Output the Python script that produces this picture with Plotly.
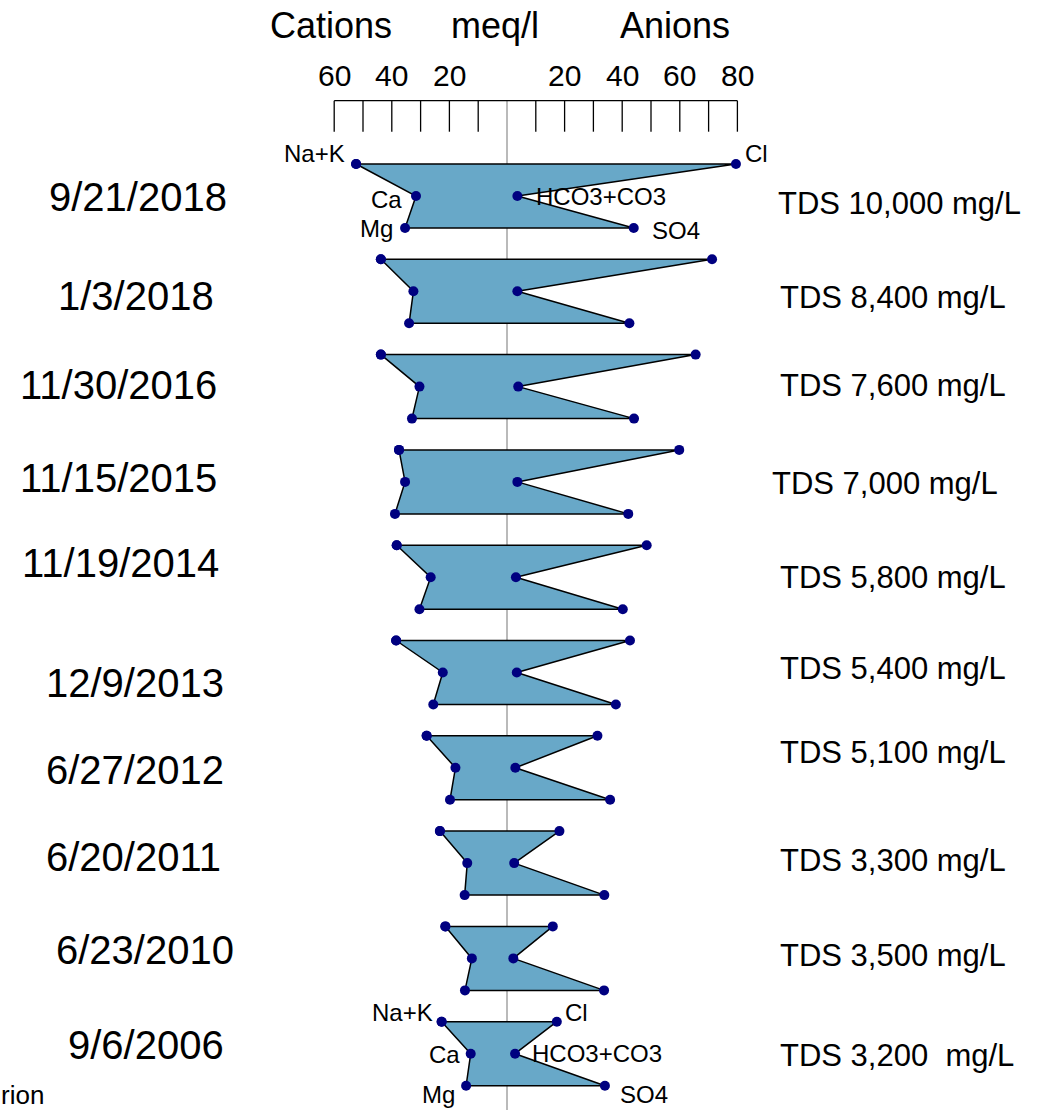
import plotly.graph_objects as go

# Sampling dates (newest first) and total dissolved solids labels
dates = ["9/21/2018", "1/3/2018", "11/30/2016", "11/15/2015", "11/19/2014",
         "12/9/2013", "6/27/2012", "6/20/2011", "6/23/2010", "9/6/2006"]
tds_labels = ["TDS 10,000 mg/L", "TDS 8,400 mg/L", "TDS 7,600 mg/L", "TDS 7,000 mg/L",
              "TDS 5,800 mg/L", "TDS 5,400 mg/L", "TDS 5,100 mg/L", "TDS 3,300 mg/L",
              "TDS 3,500 mg/L", "TDS 3,200  mg/L"]

# Major ions, meq/l
na_k = [52.4, 43.8, 43.8, 37.5, 38.3, 38.5, 27.9, 23.3, 21.4, 22.7]
ca = [31.6, 32.5, 30.4, 35.4, 26.5, 22.3, 17.9, 13.8, 12.2, 12.6]
mg = [35.4, 34.0, 33.0, 38.9, 30.4, 25.6, 19.8, 14.7, 14.6, 14.2]
cl = [79.5, 71.2, 65.5, 59.8, 48.5, 42.7, 31.4, 18.2, 15.9, 17.3]
hco3_co3 = [3.6, 3.6, 3.9, 3.6, 3.1, 3.4, 2.9, 2.5, 2.2, 2.8]
so4 = [44.0, 42.5, 44.1, 42.1, 40.2, 37.8, 35.8, 33.8, 33.7, 34.0]

# Scale ticks (cations to the left, anions to the right)
tick_values = list(range(-60, 81, 10))
tick_label_values = [-60, -40, -20, 20, 40, 60, 80]

# ---- layout constants (pixels) ----
W, H = 1047, 1110
X0_PX = 507.0          # pixel of the zero line
PX_PER_MEQ = 2.88
ROW0 = 164.0           # y of first diagram's top vertex
ROW_PITCH = 95.3
ION_GAP = 32.0
SCALE_TOP, SCALE_BOT = 100.7, 131.7

FILL = "rgb(104,168,200)"
MARK = "rgb(0,0,128)"
FONT = "Liberation Sans, Arial, sans-serif"

def px_to_x(px):
    return (px - X0_PX) / PX_PER_MEQ

fig = go.Figure()

shapes = []
annotations = []

# zero line running down through every diagram
shapes.append(dict(type="line", x0=0, x1=0, y0=SCALE_TOP, y1=H, layer="below",
                   line=dict(color="rgb(140,140,140)", width=1.2)))
# scale: top rule and ticks
shapes.append(dict(type="line", x0=tick_values[0], x1=tick_values[-1],
                   y0=SCALE_TOP, y1=SCALE_TOP, line=dict(color="black", width=1.3)))
for v in tick_values:
    if v == 0:
        continue
    shapes.append(dict(type="line", x0=v, x1=v, y0=SCALE_TOP, y1=SCALE_BOT,
                       line=dict(color="black", width=1.3)))
for v in tick_label_values:
    annotations.append(dict(x=v, y=75, text=str(abs(v)), showarrow=False,
                            xanchor="center", yanchor="middle",
                            font=dict(size=30, color="black", family=FONT)))

# header
for txt, cx in [("Cations", 331), ("meq/l", 495), ("Anions", 675)]:
    annotations.append(dict(x=px_to_x(cx), y=25, text=txt, showarrow=False,
                            xanchor="center", yanchor="middle",
                            font=dict(size=36, color="black", family=FONT)))

# date / TDS label placement (right edge of date, left edge of TDS, centre y)
date_pos = [(229, 197), (216, 296), (219, 385), (219, 478), (221, 563),
            (226, 683), (226, 770), (223, 857), (236, 950), (226, 1045)]
tds_pos = [(776, 203), (778, 297), (778, 385), (770, 483), (778, 577),
           (778, 668), (778, 752), (778, 860), (778, 955), (778, 1055)]

for i in range(len(dates)):
    y_top = ROW0 + ROW_PITCH * i
    ys = [y_top, y_top + ION_GAP, y_top + 2 * ION_GAP]
    xs = [-na_k[i], cl[i], hco3_co3[i], so4[i], -mg[i], -ca[i], -na_k[i]]
    yy = [ys[0], ys[0], ys[1], ys[2], ys[2], ys[1], ys[0]]
    fig.add_trace(go.Scatter(
        x=xs, y=yy, mode="lines+markers", fill="toself", fillcolor=FILL,
        line=dict(color="black", width=1.5),
        marker=dict(color=MARK, size=10),
        showlegend=False, hoverinfo="skip"))

    dx, dy = date_pos[i]
    annotations.append(dict(x=px_to_x(dx), y=dy, text=dates[i], showarrow=False,
                            xanchor="right", yanchor="middle",
                            font=dict(size=40, color="black", family=FONT)))
    tx, ty = tds_pos[i]
    annotations.append(dict(x=px_to_x(tx), y=ty, text=tds_labels[i].replace("  ", "&nbsp; "),
                            showarrow=False, xanchor="left", yanchor="middle",
                            font=dict(size=31, color="black", family=FONT)))

# ion names on the first and last diagrams: (dx px, dy px, anchor)
ion_offsets = {
    0: {"Na+K": (-10, -11, "right"), "Ca": (-13, 3, "right"), "Mg": (-11, 0, "right"),
        "Cl": (8, -11, "left"), "HCO3+CO3": (18, 0, "left"), "SO4": (17, 2, "left")},
    9: {"Na+K": (-8, -9, "right"), "Ca": (-10, 1, "right"), "Mg": (-10, 9, "right"),
        "Cl": (7, -9, "left"), "HCO3+CO3": (16, 0, "left"), "SO4": (14, 9, "left")},
}
for i, offs in ion_offsets.items():
    y_top = ROW0 + ROW_PITCH * i
    pts = {"Na+K": (-na_k[i], y_top), "Ca": (-ca[i], y_top + ION_GAP),
           "Mg": (-mg[i], y_top + 2 * ION_GAP), "Cl": (cl[i], y_top),
           "HCO3+CO3": (hco3_co3[i], y_top + ION_GAP), "SO4": (so4[i], y_top + 2 * ION_GAP)}
    for name, (ox, oy, anchor) in offs.items():
        px, py = pts[name]
        annotations.append(dict(x=px + ox / PX_PER_MEQ, y=py + oy, text=name,
                                showarrow=False, xanchor=anchor, yanchor="middle",
                                borderpad=0,
                                font=dict(size=24, color="black", family=FONT)))

# caption fragment at the lower-left corner
annotations.append(dict(xref="paper", yref="paper", x=0.0, y=0.028, text="rion",
                        showarrow=False, xanchor="left", yanchor="top",
                        borderpad=0,
                        font=dict(size=26, color="black", family=FONT)))

fig.update_layout(
    width=W, height=H,
    margin=dict(l=0, r=0, t=0, b=0),
    paper_bgcolor="white", plot_bgcolor="white",
    xaxis=dict(range=[px_to_x(0), px_to_x(W)], visible=False, fixedrange=True),
    yaxis=dict(range=[H, 0], visible=False, fixedrange=True),
    shapes=shapes, annotations=annotations,
)

fig.write_html("out.html")
